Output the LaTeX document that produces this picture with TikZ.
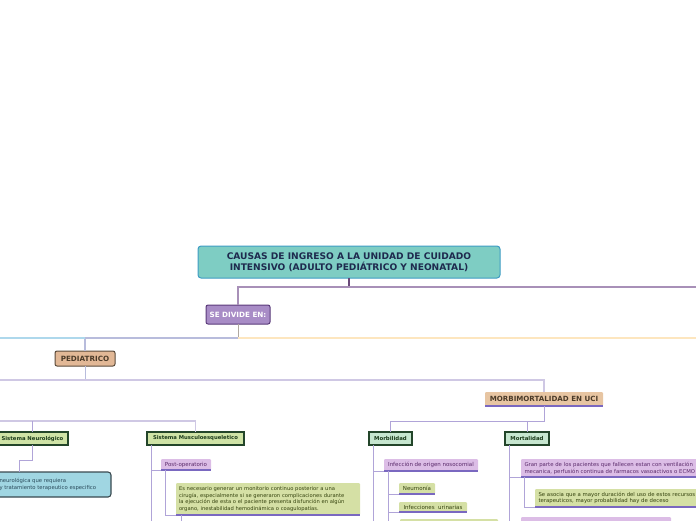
\documentclass[tikz,border=0pt]{standalone}
\usepackage{fontspec}
\setmainfont{DejaVu Sans}
\usetikzlibrary{calc}
\definecolor{titlefill}{HTML}{7ECDC3}
\definecolor{titledraw}{HTML}{3E9CC4}
\definecolor{titletext}{HTML}{1E2A4E}
\definecolor{divfill}{HTML}{A88CC6}
\definecolor{divdraw}{HTML}{5A3A7A}
\definecolor{tanfill}{HTML}{E2B896}
\definecolor{tandraw}{HTML}{5A4A3A}
\definecolor{tantext}{HTML}{4A3A28}
\definecolor{morbifill}{HTML}{E7C5A2}
\definecolor{sysfill}{HTML}{CFE3A6}
\definecolor{sysdraw}{HTML}{23452A}
\definecolor{systext}{HTML}{1A3A1A}
\definecolor{mintfill}{HTML}{C6E6CF}
\definecolor{purpfill}{HTML}{DCBDE6}
\definecolor{purptext}{HTML}{5A2A6A}
\definecolor{greenfill}{HTML}{D5E0A5}
\definecolor{greentext}{HTML}{34420E}
\definecolor{bluefill}{HTML}{A0D6E2}
\definecolor{bluedraw}{HTML}{3A4A50}
\definecolor{bluetext}{HTML}{2A4A5A}
\definecolor{ulc}{HTML}{7A68C0}
\definecolor{mainln}{HTML}{A890B8}
\definecolor{stubdark}{HTML}{6A4A7A}
\definecolor{stubgray}{HTML}{B0A8A0}
\definecolor{orangeln}{HTML}{FDE6BF}
\definecolor{lblueln}{HTML}{AED8EC}
\definecolor{lavln}{HTML}{B8BCDC}
\definecolor{paleln}{HTML}{CFC8E4}
\definecolor{trunkln}{HTML}{B0A4D8}
\begin{document}
\begin{tikzpicture}[x=1pt,y=-1pt,
  every node/.style={inner sep=0pt, outer sep=0pt},
  titlebox/.style={fill=titlefill, draw=titledraw, line width=1pt, rounded corners=3pt,
    text=titletext, font=\fontsize{9.1}{11.5}\selectfont\bfseries, align=center},
  divbox/.style={fill=divfill, draw=divdraw, line width=1pt, rounded corners=2pt,
    text=white, font=\fontsize{7.2}{8}\selectfont\bfseries},
  tanbox/.style={fill=tanfill, draw=tandraw, line width=1pt, rounded corners=2pt,
    text=tantext, font=\fontsize{7.2}{8}\selectfont\bfseries},
  morbibox/.style={fill=morbifill, rounded corners=1pt,
    text=tantext, font=\fontsize{7.1}{8}\selectfont\bfseries},
  sysbox/.style={fill=sysfill, draw=sysdraw, line width=1.5pt,
    text=systext, font=\fontsize{5.3}{6}\selectfont\bfseries},
  mintbox/.style={fill=mintfill, draw=sysdraw, line width=1.5pt,
    text=systext, font=\fontsize{5.4}{6}\selectfont\bfseries},
  purpbox/.style={fill=purpfill, rounded corners=1pt,
    text=purptext, font=\fontsize{5.5}{7}\selectfont},
  greenbox/.style={fill=greenfill, rounded corners=1pt,
    text=greentext, font=\fontsize{5.5}{7}\selectfont},
  longtext/.style={font=\fontsize{5.2}{6.6}\selectfont, align=left},
  bluebox/.style={fill=bluefill, draw=bluedraw, line width=1.1pt, rounded corners=3pt},
  ul/.style={draw=ulc, line width=1.2pt},
  ln/.style={draw=trunkln, line width=0.9pt},
]
\useasboundingbox (0,0) rectangle (696,520);
\clip (0,0) rectangle (696,520);

% nodes
\node[titlebox, minimum width=302pt, minimum height=32pt] (title) at (349,262)
  {CAUSAS DE INGRESO A LA UNIDAD DE CUIDADO\\INTENSIVO (ADULTO PEDIÁTRICO Y NEONATAL)};
\node[divbox, minimum width=64pt, minimum height=19pt] (sediv) at (238,314.5) {SE DIVIDE EN:};
\node[tanbox, minimum width=60pt, minimum height=15pt] (ped) at (85,358.5) {PEDIATRICO};
\node[morbibox, minimum width=118pt, minimum height=14pt] (morbi) at (544,399) {MORBIMORTALIDAD EN UCI};

\node[sysbox, minimum width=71pt, minimum height=13pt] (neuro) at (32.5,438.5) {Sistema Neurológico};
\node[bluebox, minimum width=171pt, minimum height=25pt] (ntbox) at (25.5,484.5) {};
\node[longtext, text=bluetext, anchor=west, font=\fontsize{5.3}{6.4}\selectfont] (nttext) at (-0.5,484.5)
  {neurológica que requiera\\y tratamiento terapeutico especifico};

\node[sysbox, minimum width=97pt, minimum height=13pt] (musc) at (195.5,438.5) {Sistema Musculoesqueletico};
\node[purpbox, minimum width=50pt, minimum height=11pt] (postop) at (186,464.5) {Post-operatorio};
\node[greenbox, longtext, minimum width=184pt, minimum height=32pt, text width=178pt] (esnec) at (268,499)
  {Es necesario generar un monitorio continuo posterior a una\\
   cirugía, especialmente si se generaron complicaciones durante\\
   la ejecución de esta o el paciente presenta disfunción en algún\\
   organo, inestabilidad hemodinámica o coagulopatías.};

\node[mintbox, minimum width=43pt, minimum height=13pt] (morbil) at (390.5,438.5) {Morbilidad};
\node[purpbox, minimum width=94pt, minimum height=12pt] (infec) at (431,465) {Infección de origen nosocomial};
\node[greenbox, minimum width=36pt, minimum height=11pt] (neum) at (417,488.5) {Neumonía};
\node[greenbox, minimum width=68pt, minimum height=10pt] (infur) at (433,507) {Infecciones\ \ urinarias};
\node[greenbox, minimum width=98pt, minimum height=22pt] (nextg) at (449,530) {};

\node[mintbox, minimum width=44pt, minimum height=13pt] (mortal) at (527,438.5) {Mortalidad};
\node[purpbox, longtext, minimum width=239pt, minimum height=18pt, text width=232pt,
  font=\fontsize{5.35}{7}\selectfont] (gran) at (640.5,468)
  {Gran parte de los pacientes que fallecen estan con ventilación\\
   mecanica, perfusión continua de farmacos vasoactivos o ECMO};
\node[greenbox, longtext, minimum width=205pt, minimum height=18pt, text width=198pt,
  font=\fontsize{5.35}{6.6}\selectfont] (seasoc) at (637.5,498)
  {Se asocia que a mayor duración del uso de estos recursos\\
   terapeuticos, mayor probabilidad hay de deceso};
\node[purpbox, minimum width=150pt, minimum height=22pt] (nextp) at (596,528) {};

% underlines
\foreach \n in {morbi,postop,esnec,infec,neum,infur,gran,seasoc}
  \draw[ul] (\n.south west) -- (\n.south east);

% coordinates for free ends
\coordinate (R1) at (696,287);
\coordinate (R2) at (696,338);
\coordinate (L2) at (0,338);
\coordinate (L3) at (0,380);
\coordinate (L4) at (0,421);

% connectors
\draw[draw=stubdark, line width=1.4pt] (title.south) -- (title.south |- R1);
\draw[draw=mainln, line width=1.6pt] (sediv.north) |- (R1);
\draw[draw=stubgray, line width=1pt] (sediv.south) -- (sediv.south |- R2);
\draw[draw=orangeln, line width=1.4pt] (sediv.south |- R2) -- (R2);
\draw[draw=lavln, line width=1.1pt] (sediv.south |- R2) -| (ped.north);
\draw[draw=lblueln, line width=1.1pt] (ped.north |- L2) -- (L2);

\draw[draw=lavln, line width=1pt] (ped.south) -- (ped.south |- L3);
\draw[draw=paleln, line width=1.2pt] (L3) -| (morbi.north);

\draw[ln] (morbi.south) -- ++(0,15) -| (morbil.north);
\draw[ln] (morbi.south) -- ++(0,15) -| (mortal.north);

\draw[draw=paleln, line width=1.1pt] (L4) -| (musc.north);
\draw[ln] (neuro.north |- L4) -- (neuro.north);
\draw[ln] (neuro.south) -- ++(0,15) -- ++(-13,0) -- (19.5,0 |- ntbox.north);

\draw[ln] ([xshift=4pt]musc.south west) |- (postop.south west);
\draw[ln] ([xshift=4pt]musc.south west) -- ++(0,80);
\draw[ln] ([xshift=4pt]postop.south west) |- (esnec.south west);
\draw[ln] ([xshift=5pt]esnec.south west) -- ++(0,10);

\draw[ln] ([xshift=4pt]morbil.south west) |- (infec.south west);
\draw[ln] ([xshift=4pt]morbil.south west) -- ++(0,80);
\draw[ln] ([xshift=4pt]infec.south west) |- (neum.south west);
\draw[ln] ([xshift=4pt]infec.south west) |- (infur.south west);
\draw[ln] ([xshift=4pt]infec.south west) -- ++(0,60);

\draw[ln] ([xshift=4pt]mortal.south west) |- (gran.south west);
\draw[ln] ([xshift=4pt]mortal.south west) -- ++(0,80);
\draw[ln] ([xshift=3pt]gran.south west) |- (seasoc.south west);
\end{tikzpicture}
\end{document}
